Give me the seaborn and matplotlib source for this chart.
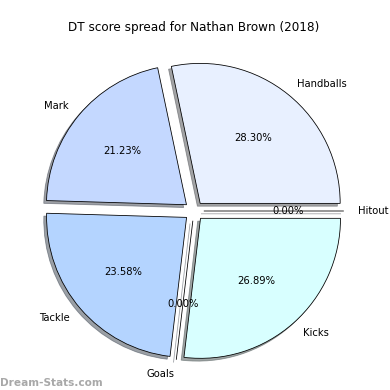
import matplotlib
matplotlib.use("Agg")
import matplotlib.pyplot as plt
import seaborn as sns

sns.set_theme(style="white")
plt.rcParams['font.family'] = ['DejaVu Sans']
plt.rcParams['text.color'] = 'black'

labels = ["Handballs", "Mark", "Tackle", "Goals", "Kicks", "Hitout"]
values = [60, 45, 50, 0, 57, 0]
colors = ["#e8f0ff", "#c4d8ff", "#b4d4ff", "#c8e0ff", "#d8ffff", "#e0e8ff"]
explode = [0.07] * len(values)
title = "DT score spread for Nathan Brown (2018)"
watermark = "Dream-Stats.com"

fig = plt.figure(figsize=(390 / 72, 390 / 72), dpi=72)
ax = fig.add_axes([19 / 390, 4 / 390, 350 / 390, 350 / 390])
ax.pie(values, labels=labels, colors=colors, explode=explode,
       autopct="%1.2f%%", shadow=True, startangle=0,
       wedgeprops={"edgecolor": "black", "linewidth": 0.8},
       textprops={"fontsize": 10, "color": "black"})
ax.set_xlim(-1.25, 1.25)
ax.set_ylim(-1.25, 1.25)
ax.set_aspect("equal")
ax.set_title(title, fontsize=12, pad=5, color="black")
fig.text(0.0, 2 / 390, watermark, fontsize=10.5, fontweight="bold",
         color="#a8a8a8", ha="left", va="bottom")
fig.savefig("out.png", dpi=72, facecolor="white")
